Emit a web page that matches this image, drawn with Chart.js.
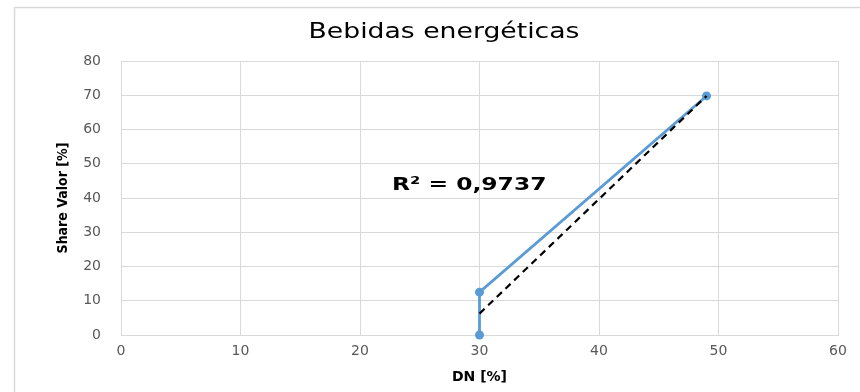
<!DOCTYPE html>
<html>
<head>
<meta charset="utf-8">
<script src="https://cdn.jsdelivr.net/npm/chart.js@4"></script>
<style>
  html, body { margin: 0; padding: 0; background: #ffffff; }
  #wrap { width: 860px; height: 392px; position: relative; }
</style>
</head>
<body>
<div id="wrap"><canvas id="c" width="860" height="392"></canvas></div>
<script>
const chartTitle = "Bebidas energéticas";
const xAxisTitle = "DN [%]";
const yAxisTitle = "Share Valor [%]";
const r2Label = "R² = 0,9737";
const dnValues = [30, 30, 49];
const shareValues = [0, 12.5, 69.8];
const xTicks = [0, 10, 20, 30, 40, 50, 60];
const yTicks = [0, 10, 20, 30, 40, 50, 60, 70, 80];

// linear least-squares trendline (as Excel does) over the observed points
const n = dnValues.length;
const mx = dnValues.reduce((a, b) => a + b, 0) / n;
const my = shareValues.reduce((a, b) => a + b, 0) / n;
let sxy = 0, sxx = 0;
for (let i = 0; i < n; i++) { sxy += (dnValues[i] - mx) * (shareValues[i] - my); sxx += (dnValues[i] - mx) ** 2; }
const slope = sxy / sxx, intercept = my - slope * mx;
const xMin = Math.min(...dnValues), xMax = Math.max(...dnValues);
const trendPoints = [xMin, xMax].map(x => ({ x: x, y: intercept + slope * x }));

const seriesPoints = dnValues.map((x, i) => ({ x: x, y: shareValues[i] }));

function stretchedText(ctx, text, cx, cy, font, sx, align) {
  ctx.save();
  ctx.font = font;
  ctx.textBaseline = 'middle';
  ctx.textAlign = align;
  ctx.translate(cx, cy);
  ctx.scale(sx, 1);
  ctx.fillText(text, 0, 0);
  ctx.restore();
}

const decor = {
  id: 'decor',
  beforeDraw(chart) {
    const ctx = chart.ctx;
    ctx.save();
    ctx.fillStyle = '#ffffff';
    ctx.fillRect(0, 0, chart.width, chart.height);
    ctx.strokeStyle = '#d9d9d9';
    ctx.lineWidth = 1.5;
    ctx.beginPath();
    ctx.moveTo(14.5, 392);
    ctx.lineTo(14.5, 7.5);
    ctx.lineTo(860, 7.5);
    ctx.stroke();
    ctx.restore();
  },
  afterDraw(chart) {
    const ctx = chart.ctx;
    ctx.save();
    ctx.fillStyle = '#000000';
    stretchedText(ctx, chartTitle, 444, 33, '21px "DejaVu Sans"', 1.27, 'center');
    stretchedText(ctx, r2Label, 392, 185, 'bold 18px "DejaVu Sans"', 1.3, 'left');
    ctx.restore();
  }
};

new Chart(document.getElementById('c'), {
  type: 'scatter',
  data: {
    datasets: [
      {
        label: 'Share',
        data: seriesPoints,
        showLine: true,
        clip: false,
        borderColor: '#5b9bd5',
        backgroundColor: '#5b9bd5',
        borderWidth: 2.8,
        pointRadius: 4.5,
        pointBorderWidth: 0,
        pointHoverRadius: 4.5,
        order: 2
      },
      {
        label: 'Lineal',
        data: trendPoints,
        showLine: true,
        borderColor: '#000000',
        borderWidth: 2.2,
        borderDash: [7, 5],
        pointRadius: 0,
        order: 1
      }
    ]
  },
  plugins: [decor],
  options: {
    responsive: false,
    animation: false,
    events: [],
    layout: { padding: { top: 61, right: 22, left: 0, bottom: 0 } },
    plugins: { legend: { display: false }, tooltip: { enabled: false }, title: { display: false } },
    scales: {
      x: {
        type: 'linear',
        min: 0, max: 60,
        afterBuildTicks: s => { s.ticks = xTicks.map(v => ({ value: v })); },
        afterFit: s => { s.height = 57; },
        grid: { color: '#d9d9d9', lineWidth: 1, drawTicks: false },
        border: { color: '#d9d9d9', width: 1 },
        ticks: { color: '#595959', font: { family: 'DejaVu Sans', size: 14 }, padding: 8 },
        title: { display: true, text: xAxisTitle, color: '#000000',
                 font: { family: 'DejaVu Sans', size: 14, weight: 'bold' }, padding: { top: 0, bottom: 6 } }
      },
      y: {
        type: 'linear',
        min: 0, max: 80,
        afterBuildTicks: s => { s.ticks = yTicks.map(v => ({ value: v })); },
        afterFit: s => { s.width = 121; },
        grid: { color: '#d9d9d9', lineWidth: 1, drawTicks: false },
        border: { color: '#d9d9d9', width: 1 },
        ticks: { color: '#595959', font: { family: 'DejaVu Sans', size: 14 }, padding: 20 },
        title: { display: true, text: yAxisTitle, color: '#000000',
                 font: { family: '"DejaVu Sans Condensed", "DejaVu Sans"', size: 14, weight: 'bold' }, padding: { top: 55, bottom: 0 } }
      }
    }
  }
});
</script>
</body>
</html>
